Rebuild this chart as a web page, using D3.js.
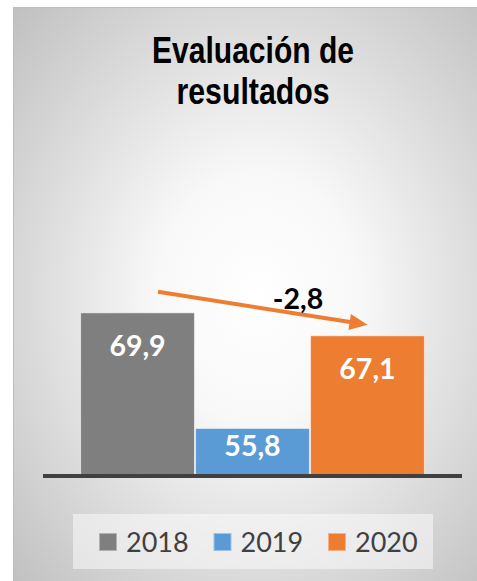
<!DOCTYPE html>
<html><head><meta charset="utf-8">
<script src="https://cdn.jsdelivr.net/npm/d3@7"></script>
<style>html,body{margin:0;padding:0;background:#fff;}svg{display:block;}</style>
</head><body>
<script>
const categories = ["2018", "2019", "2020"];
const values = [69.9, 55.8, 67.1];
const colors = ["#7f7f7f", "#5b9bd5", "#ed7d31"];
const titleLines = ["Evaluación de", "resultados"];
const yDomain = [50, 80];

const W = 477, H = 581;
const svg = d3.select("body").append("svg").attr("width", W).attr("height", H);
const defs = svg.append("defs");
const grad = defs.append("radialGradient").attr("id", "bg")
  .attr("cx", "0.52").attr("cy", "0.5").attr("r", "0.72");
grad.append("stop").attr("offset", "0").attr("stop-color", "#ffffff");
grad.append("stop").attr("offset", "0.3").attr("stop-color", "#f8f8f8");
grad.append("stop").attr("offset", "1").attr("stop-color", "#c0c0c0");

svg.append("rect").attr("x", 13.5).attr("y", 7.5).attr("width", 470).attr("height", 580)
  .attr("fill", "url(#bg)").attr("stroke", "#bdbdbd").attr("stroke-width", 1);

// title
const fmt = v => d3.format(".1f")(v).replace(".", ",").replace("\u2212", "-");
const titleWidths = [202, 153];
svg.append("g").selectAll("text").data(titleLines).join("text")
  .attr("x", 253).attr("y", (d, i) => 63 + i * 41)
  .attr("text-anchor", "middle")
  .attr("font-family", "'Liberation Sans Narrow', 'Liberation Sans', Arial, sans-serif")
  .attr("font-weight", "bold").attr("font-size", 36).attr("fill", "#000")
  .attr("textLength", (d, i) => titleWidths[i]).attr("lengthAdjust", "spacingAndGlyphs")
  .text(d => d);

const x = d3.scaleBand().domain(categories).range([43, 462]).paddingInner(0.01).paddingOuter(0.327);
const y = d3.scaleLinear().domain(yDomain).range([476, 230]);

const data = categories.map((c, i) => ({c, v: values[i], col: colors[i]}));

svg.append("g").selectAll("rect").data(data).join("rect")
  .attr("x", d => x(d.c)).attr("width", x.bandwidth())
  .attr("y", d => y(d.v)).attr("height", d => y(yDomain[0]) - y(d.v))
  .attr("fill", d => d.col).attr("stroke", "rgba(255,255,255,0.55)").attr("stroke-width", 1);

// baseline
svg.append("line").attr("x1", 43).attr("x2", 462).attr("y1", y(yDomain[0])).attr("y2", y(yDomain[0]))
  .attr("stroke", "#404040").attr("stroke-width", 4);

// data labels
svg.append("g").selectAll("text").data(data).join("text")
  .attr("x", d => x(d.c) + x.bandwidth() / 2)
  .attr("y", d => y(d.v) + Math.min(43, (y(yDomain[0]) - y(d.v)) / 2 + 4))
  .attr("text-anchor", "middle").attr("font-family", "Lato, 'Open Sans', sans-serif")
  .attr("font-weight", "bold").attr("font-size", 28.5).attr("fill", "#fff")
  .text(d => fmt(d.v));

// change arrow
const a0 = data[0], a1 = data[2];
const sx = x(a0.c) + x.bandwidth() * 0.68, sy = y(a0.v) - 21;
const tx = x(a1.c) + x.bandwidth() * 0.5, ty = y(a1.v) - 11;
const ang = Math.atan2(ty - sy, tx - sx);
const hl = 18, hw = 8;
const bx = tx - hl * Math.cos(ang), by = ty - hl * Math.sin(ang);
svg.append("line").attr("x1", sx).attr("y1", sy).attr("x2", bx + 2 * Math.cos(ang)).attr("y2", by + 2 * Math.sin(ang))
  .attr("stroke", "#ed7d31").attr("stroke-width", 4);
svg.append("polygon").attr("points", [
  [tx, ty],
  [bx + hw * Math.sin(ang), by - hw * Math.cos(ang)],
  [bx - hw * Math.sin(ang), by + hw * Math.cos(ang)]
].map(p => p.join(",")).join(" ")).attr("fill", "#ed7d31");

const diff = a1.v - a0.v;
svg.append("text").attr("x", 298).attr("y", 309).attr("text-anchor", "middle")
  .attr("font-family", "Lato, 'Open Sans', sans-serif").attr("font-weight", "bold")
  .attr("font-size", 28.5).attr("fill", "#000").text(fmt(diff));

// legend
svg.append("rect").attr("x", 73).attr("y", 514).attr("width", 360).attr("height", 55)
  .attr("fill", "rgba(250,250,250,0.55)");
const lg = svg.append("g").selectAll("g").data(data).join("g")
  .attr("transform", (d, i) => `translate(${99 + i * 114.5},0)`);
lg.append("rect").attr("x", 0.5).attr("y", 533.5).attr("width", 17).attr("height", 17)
  .attr("fill", d => d.col).attr("stroke", d => d3.interpolateRgb(d.col, "#fff")(0.4)).attr("stroke-width", 1);
lg.append("text").attr("x", 27).attr("y", 552)
  .attr("font-family", "Lato, 'Open Sans', sans-serif").attr("font-size", 27).attr("fill", "#404040")
  .text(d => d.c);
</script>
</body></html>
